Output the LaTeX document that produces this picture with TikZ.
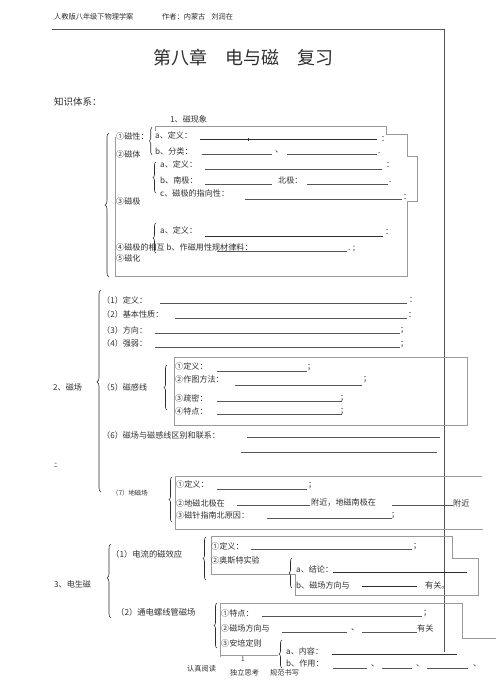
\documentclass[tikz,border=0pt]{standalone}
\usepackage{fontspec}
\setmainfont{Noto Sans CJK SC}
\usepackage{tikz}
\usetikzlibrary{decorations.pathreplacing}

\definecolor{ink}{HTML}{2E2E2E}
\definecolor{rule}{HTML}{555555}
\definecolor{box}{HTML}{9A9A9A}

\tikzset{
  txt/.style={anchor=west, inner sep=0pt, text=ink, font=\fontsize{8.1}{9}\selectfont},
  small/.style={font=\fontsize{6.4}{7}\selectfont},
  blank/.style={draw=rule, line width=.6pt},
  heavy/.style={draw=ink, line width=.9pt},
  frame/.style={draw=box, line width=.5pt},
  lbrace/.style={decorate, decoration={brace, amplitude=#1}, draw=ink, line width=.6pt},
  lbrace/.default=3pt
}

\begin{document}
\begin{tikzpicture}[x=1pt, y=-1pt]
\useasboundingbox (0,0) rectangle (496,699);

% page head
\node[txt, font=\fontsize{7.2}{8}\selectfont] (hdr) at (54,17) {人教版八年级下物理学案};
\node[txt, font=\fontsize{7.2}{8}\selectfont] (author) at (162,17) {作者：内蒙古\hspace{6pt}刘润在};
\draw[rule, line width=.6pt] (52,29) -- (444,29) -- (444,652);

\node[text=ink, inner sep=0pt, font=\fontsize{18}{20}\selectfont] (title) at (243,58) {第八章\hspace{1em}电与磁\hspace{1em}复习};
\node[txt, font=\fontsize{9.5}{11}\selectfont] (sys) at (54,102) {知识体系：};

% 1 magnet
\node[txt] (s1) at (170,119) {1、磁现象};
\draw[frame] (155,131) -- (155,126) -- (386,126) -- (386,134) -- (407,134) -- (407,156)
  -- (417,156) -- (417,201) -- (407,201) -- (407,276) -- (115,276) -- (115,137);
\draw[lbrace=4pt] (109,277) -- (109,133);

\node[txt] (mx) at (116,136) {①磁性：};
\node[txt] (mt) at (116,154) {②磁体};
\draw[lbrace=2.5pt] (152,155) -- (152,127);
\node[txt] (mxa) at (155,135) {a、定义：};
\draw[heavy] (200,139) -- (377,139);
\draw[ink] (248,137.5) -- (248,140.5);
\node[txt] (mxa2) at (381,139) {：};
\node[txt] (mxb) at (155,151) {b、分类：};
\draw[blank] (202,154) -- (272,154);
\node[txt] (mxb2) at (275,152) {、};
\draw[blank] (287,154) -- (377,154);
\node[txt] (mxb3) at (378,153) {.};

\draw[lbrace] (156,193) -- (156,162);
\node[txt] (mja) at (160,164) {a、定义：};
\draw[blank] (205,169) -- (382,169);
\node[txt] (mja2) at (386,165) {：};
\node[txt] (mjb) at (160,180) {b、南极：};
\draw[blank] (205,184) -- (272,184);
\node[txt] (mjb2) at (278,180) {北极：};
\draw[blank] (307,184) -- (388,184);
\node[txt] (mjb3) at (389,182) {.};
\node[txt] (mjc) at (160,193) {c、磁极的指向性：};
\draw[blank] (245,199) -- (402,199);
\node[txt] (mjc2) at (403,197) {：};
\node[txt] (mj) at (116,201) {③磁极};

\draw[lbrace] (156,253) -- (156,223);
\node[txt] (mia) at (160,230) {a、定义：};
\draw[heavy] (205,236) -- (383,236);
\node[txt] (mia2) at (385,232) {：};
\node[txt] (mi) at (116,247) {④磁极的相互 b、作磁用性规材律料：};
\draw[blank] (217,251) -- (347,251);
\node[txt] (mib2) at (348,249) {. ;};
\node[txt] (mh) at (116,258) {⑤磁化};

% 2 field
\node[txt] (s2) at (53,387) {2、磁场};
\draw[lbrace=4pt, decoration={aspect=.545}] (101,492) -- (101,290);
\node[txt] (f1) at (102,300) {（1）定义：};
\draw[blank] (160,303) -- (407,303);
\node[txt] (f1b) at (409,300) {：};
\node[txt] (f2) at (102,314) {（2）基本性质：};
\draw[blank] (175,318) -- (407,318);
\node[txt] (f2b) at (408,315) {：};
\node[txt] (f3) at (102,330) {（3）方向：};
\draw[blank] (155,333) -- (400,333);
\node[txt] (f3b) at (400,331) {；};
\node[txt] (f4) at (102,343) {（4）强弱：};
\draw[blank] (155,347) -- (400,347);
\node[txt] (f4b) at (400,345) {；};

\draw[frame] (174,357) rectangle (467,425);
\draw[lbrace] (167,410) -- (167,365);
\node[txt] (f5) at (102,387) {（5）磁感线};
\node[txt] (l1) at (175,366) {①定义：};
\draw[blank] (217,371) -- (307,371);
\node[txt] (l1b) at (307,368) {；};
\node[txt] (l2) at (175,379) {②作图方法：};
\draw[blank] (235,385) -- (362,385);
\node[txt] (l2b) at (363,380) {；};
\node[txt] (l3) at (175,398) {③疏密：};
\draw[blank] (217,401) -- (342,401);
\node[txt] (l3b) at (340,399) {；};
\node[txt] (l4) at (175,411) {④特点：};
\draw[blank] (217,414) -- (342,414);
\node[txt] (l4b) at (340,412) {；};

\node[txt] (f6) at (102,435) {（6）磁场与磁感线区别和联系：};
\draw[blank] (247,437) -- (440,437);
\draw[blank] (241,452) -- (437,452);
\node[txt, small] (mark) at (54,465) {ﾆ};

\draw[frame] (482,476) -- (175,476) -- (175,529) -- (483,529);
\draw[lbrace] (172,522) -- (172,477);
\node[txt, small] (f7) at (112,493) {（7）地磁场};
\node[txt] (e1) at (176,484) {①定义：};
\draw[blank] (217,489) -- (307,489);
\node[txt] (e1b) at (308,486) {；};
\node[txt] (e2) at (176,503) {②地磁北极在};
\draw[blank] (237,505) -- (310,505);
\node[txt] (e2b) at (311,503) {附近，地磁南极在};
\draw[blank] (392,505) -- (453,505);
\node[txt] (e2c) at (453,503) {附近};
\node[txt] (e3) at (176,515) {③磁针指南北原因：};
\draw[blank] (267,518) -- (392,518);
\node[txt] (e3b) at (391,516) {；};

% 3 current
\node[txt] (s3) at (54,584) {3、电生磁};
\draw[lbrace=4pt, decoration={aspect=.54}] (111,618) -- (111,544);
\node[txt, font=\fontsize{8.3}{9}\selectfont] (c1) at (111,554) {（1）电流的磁效应};
\draw[lbrace] (206,580) -- (206,537);
\draw[frame] (211,536) -- (452,536) -- (452,558) -- (478,558) -- (478,595) -- (295,595)
  -- (295,574) -- (211,574) -- cycle;
\node[txt] (o1) at (211,546) {①定义：};
\draw[blank] (251,549) -- (412,549);
\node[txt] (o1b) at (413,547) {；};
\node[txt] (o2) at (211,560) {②奥斯特实验};
\draw[lbrace] (292,588) -- (292,558);
\node[txt] (o2a) at (296,569) {a、结论：};
\draw[heavy] (333,572) -- (467,572);
\node[txt] (o2b) at (296,585) {b、磁场方向与};
\draw[heavy] (362,586) -- (417,586);
\node[txt] (o2c) at (425,585) {有关。};

\node[txt, font=\fontsize{8.3}{9}\selectfont] (c2) at (116,612) {（2）通电螺线管磁场};
\draw[lbrace] (217,648) -- (217,603);
\draw[frame] (220,657) -- (220,603) -- (462,603) -- (462,638) -- (496,638);
\draw[frame] (220,655) -- (278,655);
\node[txt] (p1) at (221,613) {①特点：};
\draw[blank] (262,616) -- (422,616);
\node[txt] (p1b) at (423,614) {；};
\node[txt] (p2) at (221,628) {②磁场方向与};
\draw[blank] (282,632) -- (347,632);
\node[txt] (p2b) at (351,630) {、};
\draw[blank] (362,632) -- (417,632);
\node[txt] (p2c) at (417,628) {有关};
\node[txt] (p3) at (221,643) {③安培定则};
\draw[lbrace] (282,668) -- (282,640);
\node[txt] (p3a) at (286,651) {a、内容：};
\draw[heavy] (332,654) -- (457,654);
\node[txt] (p3b) at (286,663) {b、作用：};
\draw[blank] (333,668) -- (367,668);
\node[txt] (p3c) at (371,666) {、};
\draw[blank] (382,668) -- (412,668);
\node[txt] (p3d) at (416,666) {、};
\draw[blank] (427,668) -- (468,668);
\node[txt] (p3e) at (473,666) {、};

% page foot
\node[txt, small] (pg) at (241,659) {1};
\node[txt, font=\fontsize{7.2}{8}\selectfont] (r1) at (187,669) {认真阅读};
\node[txt, font=\fontsize{7.2}{8}\selectfont] (r2) at (230,673) {独立思考};
\node[txt, font=\fontsize{7.2}{8}\selectfont] (r3) at (270,673) {规范书写};
\end{tikzpicture}
\end{document}
